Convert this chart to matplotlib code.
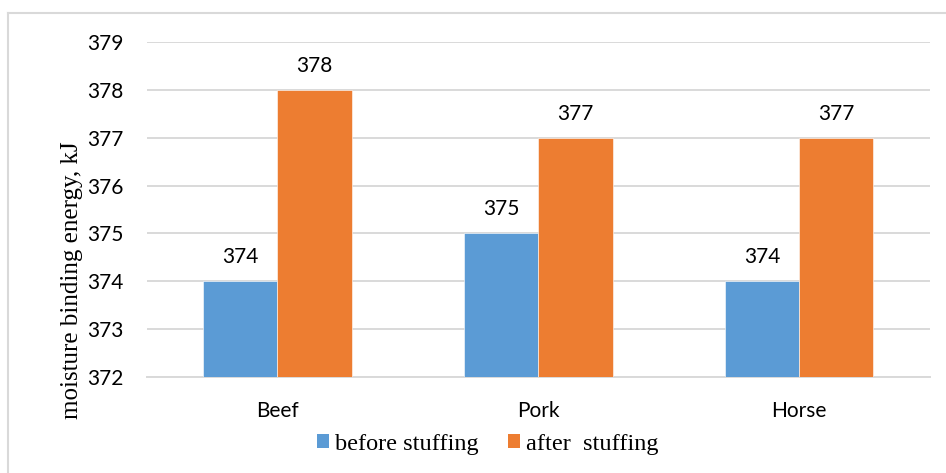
import matplotlib
matplotlib.use("Agg")
import matplotlib.pyplot as plt
import numpy as np
from matplotlib.patches import Patch
from matplotlib.lines import Line2D

categories = ["Beef", "Pork", "Horse"]
before = [374, 375, 374]
after = [378, 377, 377]
series_names = ["before stuffing", "after  stuffing"]
yticks = [372, 373, 374, 375, 376, 377, 378, 379]

c_blue = "#5B9BD5"
c_orange = "#ED7D31"
grid_c = "#D9D9D9"

W, H = 946, 473
fig = plt.figure(figsize=(W / 100, H / 100), dpi=100)
fig.patch.set_facecolor("white")
ax = fig.add_axes([147 / W, 1 - 377 / H, (929.5 - 147) / W, (377 - 42) / H])

x = np.arange(len(categories))
bw = 0.285
b1 = ax.bar(x - bw / 2, before, bw, color=c_blue, zorder=3, edgecolor="white", linewidth=0.4)
b2 = ax.bar(x + bw / 2, after, bw, color=c_orange, zorder=3, edgecolor="white", linewidth=0.4)

ax.set_ylim(372, 379)
ax.set_xlim(-0.5, len(categories) - 0.5)
ax.set_yticks(yticks)
ax.set_yticklabels([str(v) for v in yticks])
ax.set_xticks(x)
ax.set_xticklabels(categories)
ax.yaxis.grid(True, color=grid_c, linewidth=1.4, zorder=0)
ax.set_axisbelow(True)
for s in ["top", "right", "left"]:
    ax.spines[s].set_visible(False)
ax.spines["bottom"].set_color(grid_c)
ax.spines["bottom"].set_linewidth(1.4)
ax.tick_params(axis="both", length=0, labelsize=15, colors="#000000")
ax.tick_params(axis="y", pad=17)
ax.tick_params(axis="x", pad=17)
for lab in ax.get_xticklabels() + ax.get_yticklabels():
    lab.set_fontfamily("Lato")

for bars, vals in ((b1, before), (b2, after)):
    for r, v in zip(bars, vals):
        ax.annotate(str(v), (r.get_x() + r.get_width() / 2, v), xytext=(0, 13),
                    textcoords="offset points", ha="center", va="baseline",
                    fontsize=15, fontfamily="Lato", color="#000000")

fig.text(72 / W, 1 - 280 / H, "moisture binding energy, kJ", rotation=90,
         ha="center", va="center", fontsize=18, fontfamily="Liberation Serif")

handles = [Patch(facecolor=c_blue, edgecolor="none"), Patch(facecolor=c_orange, edgecolor="none")]
fig.legend(handles, series_names, loc="center", bbox_to_anchor=(488 / W, 1 - 444 / H),
           ncol=2, frameon=False, handlelength=0.5, handleheight=0.5, handletextpad=0.25,
           columnspacing=1.2, borderaxespad=0, borderpad=0,
           prop={"family": "Liberation Serif", "size": 17.5})

# chart border (left and top visible)
fig.add_artist(Line2D([8 / W, 8 / W], [0, 1 - 13 / H], transform=fig.transFigure,
                      color=grid_c, linewidth=1.5))
fig.add_artist(Line2D([8 / W, 1], [1 - 13 / H, 1 - 13 / H], transform=fig.transFigure,
                      color=grid_c, linewidth=1.5))

fig.savefig("out.png", dpi=100, facecolor="white")
